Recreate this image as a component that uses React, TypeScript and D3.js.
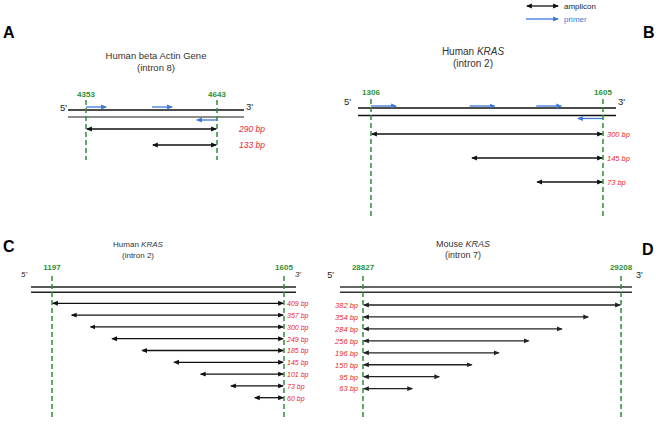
import React from "react";
import * as d3 from "d3";

// ---------- data ----------
const panelLetters = ["A", "B", "C", "D"];

const aTitle = ["Human beta Actin Gene", "(intron 8)"];
const aBounds = [4353, 4643];
const aPrimersFwd = [4353, 4499];
const aPrimersRev = [4643];
const aSizes = [290, 133];
const aStarts = [4353, 4499];

const bTitle = ["Human ", "KRAS", "(intron 2)"];
const bBounds = [1306, 1605];
const bPrimersFwd = [1306, 1433, 1519];
const bPrimersRev = [1605];
const bSizes = [300, 145, 73];
const bStarts = [1306, 1435, 1519];

const cTitle = ["Human ", "KRAS", "(intron 2)"];
const cBounds = [1197, 1605];
const cSizes = [409, 357, 300, 249, 185, 145, 101, 73, 60];
const cStarts = [1197, 1230, 1263, 1301, 1354, 1410, 1457, 1510, 1552];

const dTitle = ["Mouse ", "KRAS", "(intron 7)"];
const dBounds = [28827, 29208];
const dSizes = [382, 354, 284, 256, 196, 150, 95, 63];
const dEnds = [29208, 29161, 29122, 29073, 29029, 28989, 28941, 28901];

const legendLabels = ["amplicon", "primer"];

// ---------- styles ----------
const GREEN = "#2e8f33";
const RED = "#e8262e";
const BLUE = "#3f78d8";
const FONT = "Liberation Sans, Arial, sans-serif";

type Amp = { s: number; e: number; size: number };

interface PanelCfg {
  bounds: number[];
  range: [number, number];
  strandPad: [number, number];
  strandY: [number, number];
  strandColors: [string, string];
  boundLabelY: number;
  dashY: [number, number];
  rowY0: number;
  rowStep: number;
  amps: Amp[];
  ampColor: string;
  labelSide: "right" | "left";
  labelX: number;
  labelSize: number;
  primeLeft: [number, number];
  primeRight: [number, number];
  primeSize: number;
  primeItalic: boolean;
  fwd?: number[];
  rev?: number[];
  primerLen?: number;
  fwdY?: number;
  revY?: number;
  title: string[];
  titleX: number;
  titleY: [number, number];
  titleSize: number;
  letter: string;
  letterX: number;
  letterY: number;
}

const panels: PanelCfg[] = [
  {
    bounds: aBounds, range: [86, 217], strandPad: [18, 27], strandY: [110, 117],
    strandColors: ["#111", "#666"], boundLabelY: 97, dashY: [100, 160],
    rowY0: 129, rowStep: 16,
    amps: aSizes.map((size, i) => ({ s: aStarts[i], e: aBounds[1], size })),
    ampColor: "#111", labelSide: "right", labelX: 239, labelSize: 8.5,
    primeLeft: [67, 111], primeRight: [246, 110], primeSize: 9.5, primeItalic: false,
    fwd: aPrimersFwd, rev: aPrimersRev, primerLen: 20, fwdY: 107, revY: 120,
    title: [aTitle[0], "", aTitle[1]], titleX: 156, titleY: [59, 71], titleSize: 9.5,
    letter: panelLetters[0], letterX: 3, letterY: 38,
  },
  {
    bounds: bBounds, range: [371, 603], strandPad: [13, 13], strandY: [108, 115.5],
    strandColors: ["#111", "#111"], boundLabelY: 95, dashY: [99, 216],
    rowY0: 134, rowStep: 24,
    amps: bSizes.map((size, i) => ({ s: bStarts[i], e: bBounds[1], size })),
    ampColor: "#111", labelSide: "right", labelX: 607, labelSize: 7.5,
    primeLeft: [351, 105], primeRight: [618, 105], primeSize: 9.5, primeItalic: false,
    fwd: bPrimersFwd, rev: bPrimersRev, primerLen: 25, fwdY: 106, revY: 118.5,
    title: bTitle, titleX: 473, titleY: [55, 67], titleSize: 10,
    letter: panelLetters[1], letterX: 643, letterY: 38,
  },
  {
    bounds: cBounds, range: [52, 284], strandPad: [21, 12], strandY: [287, 292.3],
    strandColors: ["#222", "#222"], boundLabelY: 270, dashY: [276, 419],
    rowY0: 303.3, rowStep: 11.8,
    amps: cSizes.map((size, i) => ({ s: cStarts[i], e: cBounds[1], size })),
    ampColor: "#111", labelSide: "right", labelX: 287, labelSize: 7,
    primeLeft: [27, 277], primeRight: [295, 277], primeSize: 8, primeItalic: true,
    title: cTitle, titleX: 138, titleY: [247, 258], titleSize: 8,
    letter: panelLetters[2], letterX: 3, letterY: 252,
  },
  {
    bounds: dBounds, range: [363, 621], strandPad: [23, 11], strandY: [287, 292.3],
    strandColors: ["#333", "#333"], boundLabelY: 270, dashY: [276, 419],
    rowY0: 305, rowStep: 11.95,
    amps: dSizes.map((size, i) => ({ s: dBounds[0], e: dEnds[i], size })),
    ampColor: "#222", labelSide: "left", labelX: 358, labelSize: 7.5,
    primeLeft: [334, 278], primeRight: [636, 278], primeSize: 9, primeItalic: false,
    title: dTitle, titleX: 463, titleY: [247, 258], titleSize: 9,
    letter: panelLetters[3], letterX: 642, letterY: 255,
  },
];

function Panel({ p, idx }: { p: PanelCfg; idx: number }) {
  const x = d3.scaleLinear().domain(p.bounds).range(p.range);
  const y = (i: number) => p.rowY0 + i * p.rowStep;
  const x0 = x(p.bounds[0]) - p.strandPad[0];
  const x1 = x(p.bounds[1]) + p.strandPad[1];
  const hasItalic = p.title[1] !== "";
  return (
    <g>
      <text x={p.letterX} y={p.letterY} fontFamily={FONT} fontWeight="bold" fontSize={16} fill="#000">
        {p.letter}
      </text>
      <text x={p.titleX} y={p.titleY[0]} textAnchor="middle" fontFamily={FONT} fontSize={p.titleSize} fill="#333">
        {p.title[0]}
        {hasItalic && <tspan fontStyle="italic">{p.title[1]}</tspan>}
      </text>
      <text x={p.titleX} y={p.titleY[1]} textAnchor="middle" fontFamily={FONT} fontSize={p.titleSize} fill="#333">
        {p.title[2]}
      </text>
      {/* strands */}
      {p.strandY.map((sy, i) => (
        <line key={i} x1={x0} x2={x1} y1={sy} y2={sy} stroke={p.strandColors[i]} strokeWidth={1.6} />
      ))}
      <text x={p.primeLeft[0]} y={p.primeLeft[1]} textAnchor="end" fontFamily={FONT} fontSize={p.primeSize}
        fontStyle={p.primeItalic ? "italic" : "normal"} fill="#222">5'</text>
      <text x={p.primeRight[0]} y={p.primeRight[1]} fontFamily={FONT} fontSize={p.primeSize}
        fontStyle={p.primeItalic ? "italic" : "normal"} fill="#222">3'</text>
      {/* boundaries */}
      {p.bounds.map((b, i) => (
        <g key={i}>
          <line x1={x(b)} x2={x(b)} y1={p.dashY[0]} y2={p.dashY[1]} stroke={GREEN} strokeWidth={1.5}
            strokeDasharray="5,3" />
          <text x={x(b)} y={p.boundLabelY} textAnchor="middle" fontFamily={FONT} fontWeight="bold"
            fontSize={8} fill={GREEN}>{b}</text>
        </g>
      ))}
      {/* primers */}
      {p.fwd && p.fwd.map((f, i) => (
        <line key={"f" + i} x1={x(f)} x2={x(f) + (p.primerLen || 20)} y1={p.fwdY} y2={p.fwdY}
          stroke={BLUE} strokeWidth={1.3} markerEnd="url(#headBlue)" />
      ))}
      {p.rev && p.rev.map((r, i) => (
        <line key={"r" + i} x1={x(r)} x2={x(r) - (p.primerLen || 20)} y1={p.revY} y2={p.revY}
          stroke={BLUE} strokeWidth={1.3} markerEnd="url(#headBlue)" />
      ))}
      {/* amplicons */}
      {p.amps.map((a, i) => (
        <g key={"a" + i}>
          <line x1={x(a.s) + 1} x2={x(a.e) - 1} y1={y(i)} y2={y(i)} stroke={p.ampColor} strokeWidth={1.3}
            markerStart={`url(#headBlack${idx})`} markerEnd={`url(#headBlack${idx})`} />
          <text x={p.labelX} y={y(i) + 2.8} textAnchor={p.labelSide === "left" ? "end" : "start"}
            fontFamily={FONT} fontStyle="italic" fontSize={p.labelSize} fill={RED}>
            {a.size} bp
          </text>
        </g>
      ))}
    </g>
  );
}

export default function App() {
  const W = 661, H = 425;
  return (
    <svg width={W} height={H} style={{ position: "absolute", left: 0, top: 0, background: "#fff" }}>
      <defs>
        {panels.map((p, i) => (
          <marker key={i} id={`headBlack${i}`} viewBox="0 -3 6 6" refX={5} refY={0} markerWidth={4.5}
            markerHeight={4.5} orient="auto-start-reverse">
            <path d="M0,-2.5L6,0L0,2.5Z" fill={p.ampColor} />
          </marker>
        ))}
        <marker id="headBlue" viewBox="0 -3 6 6" refX={5} refY={0} markerWidth={4.5} markerHeight={4.5}
          orient="auto-start-reverse">
          <path d="M0,-2.5L6,0L0,2.5Z" fill={BLUE} />
        </marker>
      </defs>
      <rect width={W} height={H} fill="#fff" />
      {/* legend */}
      <line x1={527} x2={558} y1={6} y2={6} stroke="#111" strokeWidth={1.3}
        markerStart="url(#headBlack0)" markerEnd="url(#headBlack0)" />
      <text x={564} y={9} fontFamily={FONT} fontSize={8} fill="#222">{legendLabels[0]}</text>
      <line x1={526} x2={558} y1={19} y2={19} stroke={BLUE} strokeWidth={1.3} markerEnd="url(#headBlue)" />
      <text x={564} y={22} fontFamily={FONT} fontSize={8} fill={BLUE}>{legendLabels[1]}</text>
      {panels.map((p, i) => (
        <Panel key={i} p={p} idx={i} />
      ))}
    </svg>
  );
}
